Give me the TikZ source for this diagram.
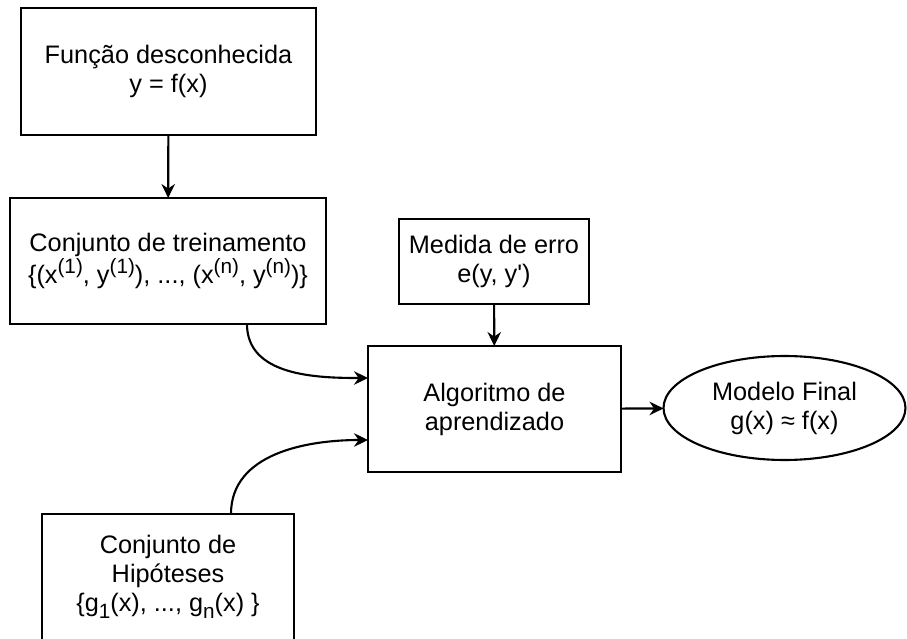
\documentclass[tikz,border=0pt]{standalone}
\usepackage{fontspec}
\setmainfont{Liberation Sans}
\usetikzlibrary{arrows.meta,shapes.geometric}
\newcommand{\upidx}[1]{\raisebox{0.42em}{\fontsize{11.8}{12}\selectfont #1}}
\newcommand{\lowidx}[1]{\raisebox{-0.28em}{\fontsize{11.8}{12}\selectfont #1}}

\begin{document}
\begin{tikzpicture}[x=0.02cm, y=-0.02cm, >={Stealth[length=2.8mm,width=2.7mm]},
  line width=1.2pt,
  box/.style={draw, rectangle, align=center, inner sep=0pt, outer sep=0pt,
    font=\fontsize{14.4}{16.5}\selectfont},
  oval/.style={box, ellipse}]
  \useasboundingbox (0,0) rectangle (907,639);
  % left column
  \node[box, minimum width=5.9cm, minimum height=2.54cm] (func) at (168.5,71.5)
    {Função desconhecida\\y = f(x)};
  \node[box, minimum width=6.32cm, minimum height=2.52cm] (train) at (168,261)
    {Conjunto de treinamento\\\{(x\upidx{(1)}, y\upidx{(1)}), ..., (x\upidx{(n)}, y\upidx{(n)})\}};
  \node[box, minimum width=5.04cm, minimum height=2.52cm] (hyp) at (168,577)
    {Conjunto de\\Hipóteses\\\{g\lowidx{1}(x), ..., g\lowidx{n}(x) \}};
  % middle and right
  \node[box, minimum width=3.8cm, minimum height=1.7cm] (erro) at (494,261.5)
    {Medida de erro\\e(y, y\textquotesingle)};
  \node[box, minimum width=5.06cm, minimum height=2.52cm] (algo) at (494.5,409)
    {Algoritmo de\\aprendizado};
  \node[oval, minimum width=4.84cm, minimum height=2.08cm] (model) at (784.5,408)
    {Modelo Final\\g(x) ≈ f(x)};
  % connectors
  \draw[->] (func) -- (train);
  \draw[->] (erro) -- (algo);
  \draw[->] (algo) -- (model);
  \draw[->] ([xshift=1.58cm]train.south) to[out=-90, in=180] ([yshift=0.62cm]algo.west);
  \draw[->] ([xshift=1.26cm]hyp.north) to[out=90, in=180] ([yshift=-0.62cm]algo.west);
\end{tikzpicture}
\end{document}
